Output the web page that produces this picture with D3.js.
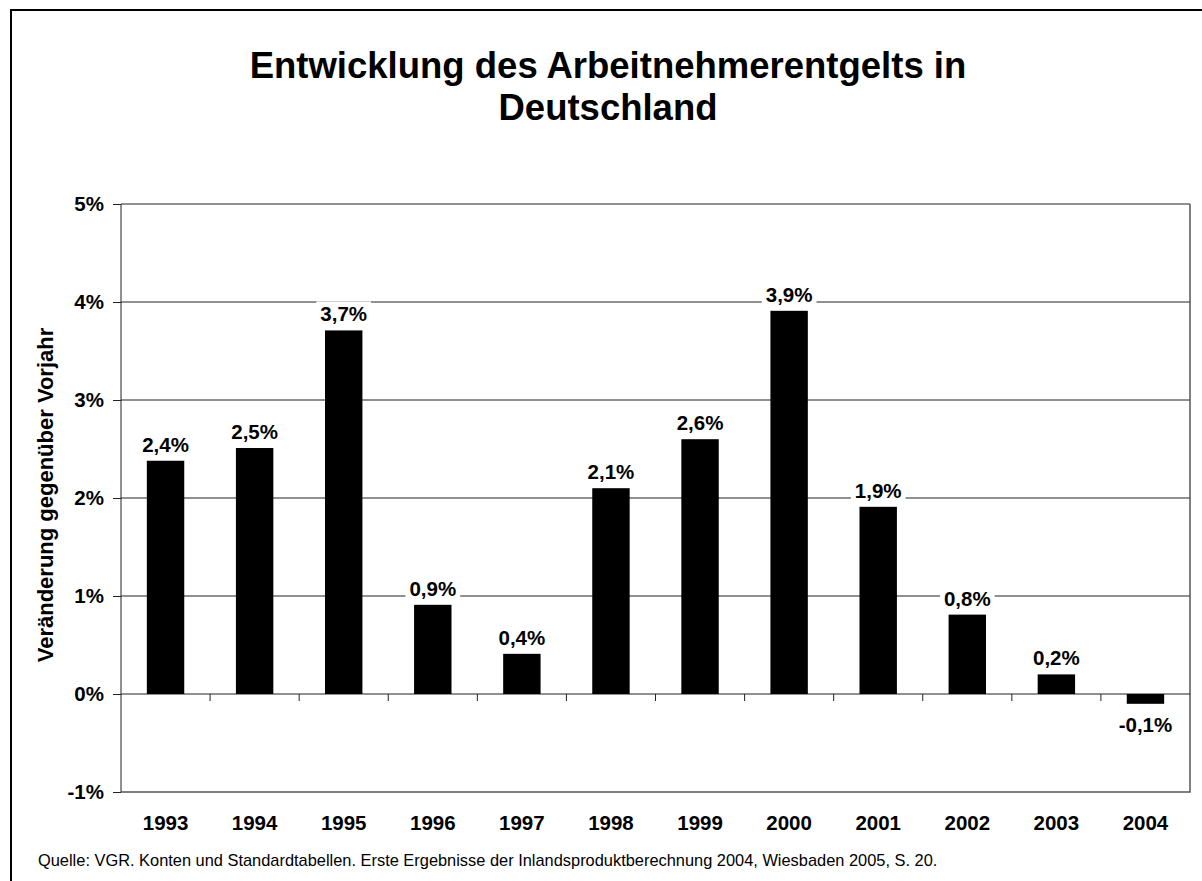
<!DOCTYPE html>
<html><head><meta charset="utf-8">
<script src="https://cdn.jsdelivr.net/npm/d3@7"></script>
<style>body{margin:0;background:#fff}svg{display:block}text{font-family:"Liberation Sans",Arial,sans-serif}</style>
</head><body><svg id="c" width="1202" height="881"></svg>
<script>
const years = ["1993","1994","1995","1996","1997","1998","1999","2000","2001","2002","2003","2004"];
const values = [2.38, 2.51, 3.71, 0.91, 0.41, 2.10, 2.60, 3.91, 1.91, 0.81, 0.20, -0.10];
const labels = ["2,4%","2,5%","3,7%","0,9%","0,4%","2,1%","2,6%","3,9%","1,9%","0,8%","0,2%","-0,1%"];
const yTicks = [-1, 0, 1, 2, 3, 4, 5];
const titleLines = ["Entwicklung des Arbeitnehmerentgelts in", "Deutschland"];
const yTitle = "Veränderung gegenüber Vorjahr";
const source = "Quelle: VGR. Konten und Standardtabellen. Erste Ergebnisse der Inlandsproduktberechnung 2004, Wiesbaden 2005, S. 20.";

const svg = d3.select("#c");
svg.append("rect").attr("x",11).attr("y",10).attr("width",1200).attr("height",880)
  .attr("fill","none").attr("stroke","#000").attr("stroke-width",2);

const L=121, R=1190, T=204, B=792;
const x = d3.scaleBand().domain(years).range([L,R]).paddingInner(0.58).paddingOuter(0.29);
const xb = d3.scaleBand().domain(years).range([L,R]);
const y = d3.scaleLinear().domain([-1,5]).range([B,T]);

// title
svg.append("text").attr("text-anchor","middle").attr("font-weight","bold").attr("font-size",36.5)
  .selectAll("tspan").data(titleLines).join("tspan").attr("x",608).attr("y",(d,i)=>78+i*42).text(d=>d);

// gridlines
svg.append("g").selectAll("line").data(yTicks.filter(t=>t!==-1&&t!==0)).join("line")
  .attr("x1",L).attr("x2",R).attr("y1",d=>y(d)).attr("y2",d=>y(d)).attr("stroke","#222").attr("stroke-width",1);

// plot border right & bottom
svg.append("path").attr("d",`M${R},${T}V${B}H${L}`).attr("fill","none").attr("stroke","#555").attr("stroke-width",1.5);

// y axis
const yAxis = d3.axisLeft(y).tickValues(yTicks).tickSize(8).tickFormat(d=>d+"%");
const ga = svg.append("g").attr("transform",`translate(${L},0)`).call(yAxis);
ga.select(".domain").attr("stroke","#222").attr("d",`M0,${T}V${B}`);
ga.selectAll(".tick line").attr("stroke","#222");
ga.selectAll(".tick text").attr("font-size",20.5).attr("font-weight","bold").attr("font-family","Liberation Sans, Arial, sans-serif").attr("x",-17).attr("fill","#000");

// zero line with ticks
svg.append("line").attr("x1",L).attr("x2",R).attr("y1",y(0)).attr("y2",y(0)).attr("stroke","#222").attr("stroke-width",1);
svg.append("g").selectAll("line").data(years.slice(1)).join("line")
  .attr("x1",d=>xb(d)).attr("x2",d=>xb(d)).attr("y1",y(0)).attr("y2",y(0)+7).attr("stroke","#222");

// bars
svg.append("g").selectAll("rect").data(values).join("rect")
  .attr("x",(d,i)=>x(years[i])).attr("width",x.bandwidth())
  .attr("y",d=>y(Math.max(0,d))).attr("height",d=>Math.abs(y(d)-y(0))).attr("fill","#000");

// value labels
const lg = svg.append("g");
values.forEach((v,i)=>{
  const cx = xb(years[i]) + xb.bandwidth()/2;
  const by = v>=0 ? y(v)-9 : y(v)+28;
  const t = lg.append("text").attr("x",cx).attr("y",by).attr("text-anchor","middle")
    .attr("font-size",20.5).attr("font-weight","bold").text(labels[i]);
  const bb = t.node().getBBox();
  lg.insert("rect","text").attr("x",bb.x-4).attr("y",bb.y-1).attr("width",bb.width+8).attr("height",bb.height+2).attr("fill","#fff");
});

// x labels
svg.append("g").selectAll("text").data(years).join("text")
  .attr("x",d=>xb(d)+xb.bandwidth()/2).attr("y",830).attr("text-anchor","middle")
  .attr("font-size",20.5).attr("font-weight","bold").text(d=>d);

// y title
svg.append("text").attr("transform","translate(53,495) rotate(-90)").attr("text-anchor","middle")
  .attr("font-size",22).attr("font-weight","bold").text(yTitle);

// source
svg.append("text").attr("x",38).attr("y",866).attr("font-size",16.4).text(source);
</script></body></html>
